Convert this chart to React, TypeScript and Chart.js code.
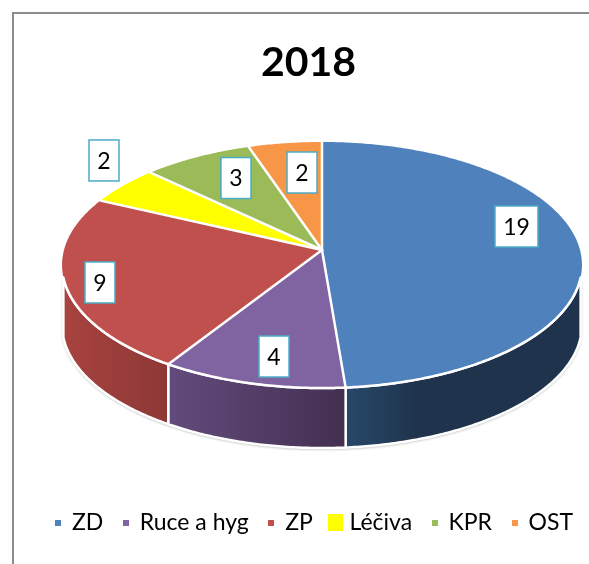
import React, { useEffect, useRef } from "react";
import { Chart, registerables } from "chart.js";

Chart.register(...registerables);

const categories = ["ZD", "Ruce a hyg", "ZP", "Léčiva", "KPR", "OST"];
const values = [19, 4, 9, 2, 3, 2];
const faceColors = ["#4f81bd", "#8064a2", "#c0504d", "#ffff00", "#9bbb59", "#f79646"];
const sideLeft = ["#27486b", "#634b7d", "#a8433f", "#999900", "#6f8a3c", "#b86a2a"];
const sideRight = ["#1f344c", "#433050", "#8d3836", "#777700", "#5a7030", "#9a5520"];
const sideStop = [0.3, 1, 1, 1, 1, 1];
const legendBoxW = [6, 6, 6, 15, 6, 6];
const legendBoxH = [6, 6, 6, 17, 6, 6];
// label centres relative to the pie centre, as fractions of the two radii
const labelDX = [0.748, -0.1846, -0.854, -0.8385, -0.3308, -0.0769];
const labelDY = [-0.313, 0.744, 0.142, -0.85, -0.707, -0.752];
const labelW = [43, 30, 30, 30, 30, 30];

// view of the disc: apex (slightly above the ellipse centre) and perspective
const CX = 322, APEX_Y = 250, SX = 258, K = -0.122, A = 90.7, DEPTH = 60;

function project(theta: number, drop = 0) {
  const u = Math.cos(theta), v = Math.sin(theta);
  const d = 1 + K * v;
  return [CX + (SX * u) / d, (A * v + APEX_Y) / d + drop];
}

function boxCanvas(color: string, w: number, h: number) {
  const c = document.createElement("canvas");
  c.width = w; c.height = h;
  const g = c.getContext("2d")!;
  g.fillStyle = color;
  g.fillRect(0, 0, w, h);
  return c;
}

function rim(ctx: any, from: number, to: number, drop: number, moveFirst: boolean) {
  const n = Math.max(2, Math.ceil(Math.abs(to - from) / 0.01));
  for (let k = 0; k <= n; k++) {
    const [x, y] = project(from + ((to - from) * k) / n, drop);
    if (k === 0 && moveFirst) ctx.moveTo(x, y);
    else ctx.lineTo(x, y);
  }
}

const pie3d = {
  id: "pie3d",
  beforeDatasetsDraw(chart: any) {
    const ctx = chart.ctx;
    const arcs = chart.getDatasetMeta(0).data;
    const lim = Math.asin(0.22);
    // side walls
    arcs.forEach((a: any, i: number) => {
      const s = Math.max(a.startAngle, lim);
      const e = Math.min(a.endAngle, Math.PI - lim);
      if (e <= s) return;
      const xa = project(s)[0], xb = project(e)[0];
      const grad = ctx.createLinearGradient(Math.min(xa, xb), 0, Math.max(xa, xb), 0);
      grad.addColorStop(0, sideLeft[i]);
      grad.addColorStop(sideStop[i], sideRight[i]);
      ctx.save();
      ctx.beginPath();
      rim(ctx, s, e, 0, true);
      rim(ctx, e, s, DEPTH, false);
      ctx.closePath();
      ctx.shadowColor = "rgba(0,0,0,0.45)";
      ctx.shadowBlur = 3;
      ctx.shadowOffsetY = 1;
      ctx.fillStyle = grad;
      ctx.fill();
      ctx.shadowColor = "transparent";
      ctx.strokeStyle = "#ffffff";
      ctx.lineWidth = 2.5;
      ctx.stroke();
      ctx.restore();
    });
    // top face from the angles the library computed for the arcs
    arcs.forEach((a: any, i: number) => {
      ctx.beginPath();
      ctx.moveTo(CX, APEX_Y);
      rim(ctx, a.startAngle, a.endAngle, 0, false);
      ctx.closePath();
      ctx.fillStyle = a.options.backgroundColor;
      ctx.fill();
    });
    ctx.save();
    ctx.strokeStyle = "#ffffff";
    ctx.lineWidth = 2.5;
    ctx.lineCap = "round";
    arcs.forEach((a: any) => {
      const [x, y] = project(a.startAngle);
      ctx.beginPath();
      ctx.moveTo(CX, APEX_Y);
      ctx.lineTo(x, y);
      ctx.stroke();
    });
    ctx.beginPath();
    rim(ctx, lim, Math.PI - lim, 0, true);
    ctx.stroke();
    // data labels
    ctx.font = "23px Lato";
    ctx.textAlign = "center";
    ctx.textBaseline = "middle";
    values.forEach((v, i) => {
      const x = CX + labelDX[i] * 260;
      const y = 265 + labelDY[i] * 123;
      const w = labelW[i], h = 41;
      ctx.fillStyle = "#ffffff";
      ctx.fillRect(x - w / 2, y - h / 2, w, h);
      ctx.strokeStyle = "#4bacc6";
      ctx.lineWidth = 1.5;
      ctx.strokeRect(x - w / 2, y - h / 2, w, h);
      ctx.fillStyle = "#000000";
      ctx.fillText(String(v), x, y + 1);
    });
    ctx.restore();
    return false;
  },
};

export default function App() {
  const ref = useRef<HTMLCanvasElement>(null);
  useEffect(() => {
    document.body.style.margin = "0";
    const chart = new Chart(ref.current!, {
      type: "pie",
      data: {
        labels: categories,
        datasets: [{ data: values, backgroundColor: faceColors, borderWidth: 0 } as any],
      },
      options: {
        responsive: false,
        animation: false,
        layout: { padding: { left: 24, right: -4, bottom: 20 } },
        plugins: {
          tooltip: { enabled: false },
          title: {
            display: true,
            text: "2018",
            color: "#000000",
            font: { family: "Lato", size: 41, weight: "bold" },
            padding: { top: 38, bottom: 10 },
          },
          legend: {
            position: "bottom",
            align: "end",
            labels: {
              color: "#000000",
              font: { family: "Lato", size: 23 },
              usePointStyle: true,
              boxWidth: 5,
              padding: 20,
              generateLabels: () =>
                categories.map((t, i) => ({
                  text: t,
                  fillStyle: faceColors[i],
                  strokeStyle: faceColors[i],
                  lineWidth: 0,
                  pointStyle: boxCanvas(faceColors[i], legendBoxW[i], legendBoxH[i]),
                  datasetIndex: 0,
                  index: i,
                })),
            },
          },
        },
      } as any,
      plugins: [pie3d],
    });
    return () => chart.destroy();
  }, []);
  return (
    <div style={{ position: "relative", width: 589, height: 564, overflow: "hidden" }}>
      <canvas ref={ref} width={589} height={564} style={{ display: "block" }} />
      <div
        style={{
          position: "absolute",
          left: 12,
          top: 12,
          width: 700,
          height: 700,
          borderLeft: "2px solid #8c8c8c",
          borderTop: "2px solid #8c8c8c",
        }}
      />
    </div>
  );
}
